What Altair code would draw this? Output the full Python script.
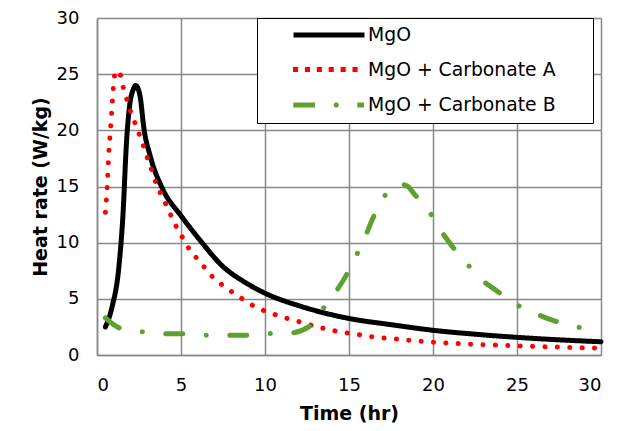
import altair as alt
import pandas as pd

series_names = ["MgO", "MgO + Carbonate A", "MgO + Carbonate B"]
series_colors = ["#000000", "#ff0000", "#5fa12e"]
line_styles = ["solid", "dotted", "dash-dot"]

mgo_t = [0.5, 0.9, 1.3, 1.55, 1.75, 1.95, 2.15, 2.3, 2.45, 2.58, 2.78, 3.17, 3.9, 5.0, 6.25, 7.34, 8.93, 10.0, 12.1, 15.0, 17.5, 20.0, 22.5, 25.0, 27.5, 30.0]
mgo_y = [2.5, 4.3, 7.8, 12.6, 18.8, 22.3, 23.6, 24.0, 23.7, 22.9, 20.3, 17.7, 14.8, 12.4, 10.0, 8.1, 6.36, 5.5, 4.35, 3.25, 2.7, 2.2, 1.85, 1.57, 1.35, 1.18]

carb_a_t = [0.5, 0.6, 0.7, 0.8, 0.9, 1.0, 1.1, 1.4, 1.55, 1.75, 1.95, 2.2, 2.45, 2.7, 2.9, 3.15, 3.35, 3.6, 3.9, 4.2, 4.5, 4.8, 5.15, 5.5, 5.95, 6.4, 6.85, 7.4, 7.95, 8.55, 9.1, 9.7, 10.4, 11.0, 11.7, 12.3, 13.0, 13.7, 14.4, 15.1, 15.8, 16.5, 17.2, 17.9, 18.5, 19.2, 19.9, 20.6, 22.5, 25.0, 27.5, 30.0]
carb_a_y = [12.7, 14.8, 17.9, 20.0, 22.2, 24.25, 25.3, 24.9, 23.9, 22.9, 21.9, 20.9, 19.9, 18.9, 17.95, 16.95, 16.0, 15.0, 14.05, 13.1, 12.1, 11.2, 10.3, 9.4, 8.6, 7.8, 7.0, 6.3, 5.7, 5.1, 4.55, 4.1, 3.7, 3.4, 3.1, 2.85, 2.55, 2.3, 2.08, 1.92, 1.77, 1.6, 1.5, 1.42, 1.33, 1.24, 1.15, 1.09, 0.95, 0.82, 0.7, 0.6]

carb_b_t = [0.5, 1.35, 2.7, 4.0, 5.1, 6.45, 7.7, 8.9, 10.2, 11.5, 12.6, 13.4, 14.2, 14.8, 15.4, 16.0, 16.4, 17.0, 17.6, 18.1, 18.5, 18.9, 19.8, 20.5, 21.1, 22.0, 22.9, 23.8, 24.9, 26.1, 27.1, 28.4, 29.9]
carb_b_y = [3.3, 2.4, 2.07, 1.9, 1.9, 1.77, 1.75, 1.75, 1.9, 1.95, 2.5, 4.0, 5.6, 7.0, 8.75, 10.65, 12.1, 13.9, 14.9, 15.2, 15.0, 14.3, 12.7, 11.0, 9.76, 8.16, 6.7, 5.7, 4.55, 3.7, 3.1, 2.57, 2.07]

x_ticks = [0, 5, 10, 15, 20, 25, 30]
y_ticks = [0, 5, 10, 15, 20, 25, 30]

rows = []
for name, style, ts, ys in zip(series_names, line_styles, [mgo_t, carb_a_t, carb_b_t],
                               [mgo_y, carb_a_y, carb_b_y]):
    for i, (t, y) in enumerate(zip(ts, ys)):
        rows.append({"series": name, "line_style": style, "t": t, "rate": y, "order": i})
df = pd.DataFrame(rows)

FONT = "DejaVu Sans"
GRID = "#898989"
DASHES = [[1, 0], [0.1, 12.3], [17, 23.5, 0.1, 23.5]]
PAD_CHARS = "\u2800\u2009\u2800"

SYMBOL_SIZE = 280
UNIT_PX = SYMBOL_SIZE ** 0.5 / 2  # pixels per unit of a custom symbol path


def square_dot(cx_px, half_px=2.5, step_px=0.03, seg_px=0.09):
    # a 5 px dot made of many very short sub-paths (robust to any dash pattern)
    parts = []
    n = int(round(2 * half_px / step_px))
    for k in range(n + 1):
        xp = cx_px - half_px + k * step_px
        parts.append(f"M{xp / UNIT_PX:.5f},0h{seg_px / UNIT_PX:.5f}")
    return "".join(parts)


def cross_dot(cx, h=0.155, d=0.11):
    return (f"M{cx - h:.3f},0H{cx + h:.3f}"
            f"M{cx:.3f},{-h}V{h}"
            f"M{cx - d:.3f},{-d}L{cx + d:.3f},{d}"
            f"M{cx - d:.3f},{d}L{cx + d:.3f},{-d}")


# legend key glyphs (unit space)
key_solid = "M-4.24,0H4.24"
key_dotted = "".join(square_dot(c) for c in [-33.5, -21.6, -9.7, 2.2, 14.1, 26.0])
key_dashdot = "M-4.27,0H-2.24M-2.24,0H-1.67" + cross_dot(0.87) + "M3.38,0H4.18"
key_shapes = [key_solid, key_dotted, key_dashdot]


def legend():
    return alt.Legend(
        title=None, orient="none", legendX=160, legendY=0,
        symbolType="M-4,0H4", symbolSize=SYMBOL_SIZE, symbolStrokeWidth=5,
        symbolFillColor="transparent", symbolOpacity=1,
        padding=6, symbolOffset=55, labelOffset=28, rowPadding=13.5,
        fillColor="white", strokeColor="black",
        labelFont=FONT, labelFontSize=18.8, labelColor="black", labelLimit=400,
        labelExpr="datum.label + '" + PAD_CHARS + "'",
    )


def build():
    x = alt.X("t:Q", scale=alt.Scale(domain=[0, 30], nice=False),
              axis=alt.Axis(values=x_ticks, title="Time (hr)", titleY=64,
                            titleBaseline="alphabetic", labelPadding=21))
    y = alt.Y("rate:Q", scale=alt.Scale(domain=[0, 30], nice=False),
              axis=alt.Axis(values=y_ticks, title="Heat rate (W/kg)", titlePadding=6,
                            labelPadding=18))
    color_scale = alt.Scale(domain=series_names, range=series_colors)
    base = alt.Chart(df)
    lines = base.mark_line(
        strokeWidth=5, strokeCap="round", strokeJoin="round", interpolate="monotone"
    ).encode(
        x=x, y=y,
        color=alt.Color("series:N", scale=color_scale, legend=legend()),
        strokeDash=alt.StrokeDash("line_style:N",
                                  scale=alt.Scale(domain=line_styles, range=DASHES),
                                  legend=None),
        order="order:Q",
    )
    keys = base.transform_filter("datum.rate < 0").mark_point(
        filled=False, strokeWidth=5, opacity=1
    ).encode(
        x=x, y=y,
        color=alt.Color("series:N", scale=color_scale, legend=legend()),
        shape=alt.Shape("series:N", scale=alt.Scale(domain=series_names, range=key_shapes),
                        legend=legend()),
    )
    return alt.layer(lines, keys).properties(
        width=504, height=337,
        autosize=alt.AutoSizeParams(type="none"),
        padding={"left": 89, "top": 10, "right": 12, "bottom": 68},
    ).configure_view(stroke=None).configure_axis(
        grid=True, gridColor=GRID, gridWidth=1.5, domainColor=GRID, domainWidth=1.5,
        ticks=False, labelFont=FONT, labelFontSize=18, labelColor="black",
        titleFont=FONT, titleFontSize=19, titleFontWeight="bold", titleColor="black",
    )


chart = build()
chart.save("out.html", embed_options={"renderer": "svg", "actions": False})
